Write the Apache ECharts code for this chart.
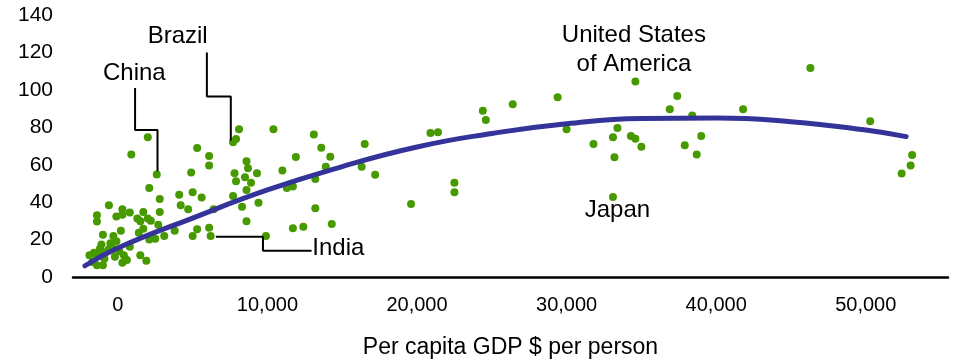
<!DOCTYPE html>
<html>
<head>
<meta charset="utf-8">
<script src="https://cdn.jsdelivr.net/npm/echarts@6/dist/echarts.min.js"></script>
<style>
  html, body { margin: 0; padding: 0; background: #ffffff; }
  #chart { width: 962px; height: 360px; }
</style>
</head>
<body>
<div id="chart"></div>
<script>
// Country observations: per capita GDP ($ per person) and the matching indicator value
const gdpPerCapita = [
  46300, 41800, 50300, 53100, 53000, 52400, 34600, 37400, 36900, 38400,
  29400, 30000, 33400, 33100, 34300, 34600, 35000, 31800, 33200, 37900,
  39000, 38700, 33100, 20900, 21400, 24400, 24600, 26400, 17200, 22500,
  22500, 19600, 8100, 7900, 7700, 10400, 13100, 13600, 16500, 11900,
  14200, 13900, 8600, 8700, 7800, 9300, 11000, 8500, 7900, 8900,
  16300, 13200, 11700, 11300, 8600, 7700, 8300, 9400, 13200, 8600,
  12400, 11700, 14300, 9900, 4100, 5000, 5600, 4200, 4700, 6400,
  3800, 5300, 6100, 5000, 6200, 2000, 900, 2600, 5300, 6100,
  6100, 4900, 2100, 2800, -600, 300, -1400, -1400, -100, 300,
  800, 1700, 2800, 1300, 1500, 2000, 2200, 2700, 3100, 2100,
  2500, -1000, -300, 200, 1400, 1700, -1100, -500, -300, -600,
  -1200, -1600, -1900, -1400, -1000, 100, -200, 400, 600, -900,
  -1700, -1400, -1000, 300, 1500, 1900, 800, -100
];
const indicator = [
  111.7, 89.6, 83.2, 65.2, 59.6, 55.3, 104.5, 96.7, 89.6, 86.3,
  96.0, 78.9, 79.6, 74.7, 75.4, 73.9, 69.6, 71.1, 64.0, 70.4,
  75.4, 65.4, 42.8, 77.0, 77.4, 88.9, 83.9, 92.3, 54.7, 50.4,
  45.3, 39.0, 78.9, 73.7, 72.0, 78.9, 76.2, 69.0, 71.1, 64.1,
  64.3, 58.9, 61.8, 58.1, 55.4, 55.4, 56.9, 53.3, 51.1, 50.4,
  58.9, 52.4, 48.3, 47.6, 46.5, 43.3, 37.6, 39.7, 36.8, 29.8,
  26.9, 26.1, 28.3, 21.9, 44.0, 45.3, 42.5, 38.3, 36.2, 36.2,
  24.7, 25.5, 26.3, 21.9, 21.9, 74.7, 65.4, 54.8, 68.9, 64.7,
  59.6, 55.9, 47.5, 41.7, 38.3, 36.2, 33.0, 29.6, 32.3, 33.3,
  34.4, 34.7, 34.7, 31.3, 29.8, 31.2, 30.1, 27.9, 21.9, 20.0,
  20.5, 22.6, 21.9, 24.7, 23.7, 25.8, 17.3, 18.0, 15.1, 14.8,
  15.1, 13.0, 11.6, 11.6, 13.4, 13.7, 10.8, 11.6, 9.1, 9.8,
  8.0, 6.3, 6.3, 7.6, 11.6, 8.7, 16.2, 19.1
];

// Polynomial trend line, sampled along the GDP range
const trendX = [-2200, 0, 5000, 10000, 15000, 20000, 25000, 30000, 35000, 40000, 45000, 50000, 52700];
const trendY = [6, 15.5, 31.5, 46.5, 59, 69.5, 76.7, 81.9, 84.7, 85, 83, 78.5, 75];

// X-axis tick labels
const xTicks = [0, 10000, 20000, 30000, 40000, 50000];

// Country names and where their labels sit (data units)
const labelNames = ['China', 'Brazil', 'United States\nof America', 'Japan', 'India'];
const labelX = [1100, 4000, 34500, 33400, 13000];
const labelY = [108.8, 128.5, 121.6, 35.8, 15.5];

// Leader lines from labels to their country markers (data units)
const leaderChina = [[1150, 101], [1150, 78.5], [2650, 78.5], [2650, 56.5]];
const leaderBrazil = [[5950, 120], [5950, 96.5], [7550, 96.5], [7550, 73]];
const leaderIndia = [[6550, 21.5], [9700, 21.5], [9700, 14], [12950, 14]];

const FONT = "'Liberation Sans', Arial, sans-serif";

const points = gdpPerCapita.map((x, i) => [x, indicator[i]]);
const trend = trendX.map((x, i) => [x, trendY[i]]);

function leader(data) {
  return {
    type: 'line',
    data: data,
    symbol: 'none',
    silent: true,
    animation: false,
    lineStyle: { color: '#000000', width: 2 },
    z: 3
  };
}

const chart = echarts.init(document.getElementById('chart'), null, { renderer: 'canvas' });
chart.setOption({
  animation: false,
  backgroundColor: '#ffffff',
  grid: { left: 73, right: 14, top: 15, bottom: 83, containLabel: false, outerBoundsMode: 'none' },
  xAxis: {
    type: 'value',
    min: -3000,
    max: 55500,
    name: 'Per capita GDP $ per person',
    nameLocation: 'middle',
    nameGap: 59,
    nameTextStyle: { fontFamily: FONT, fontSize: 23, color: '#000000' },
    axisLine: { show: true, onZero: false, lineStyle: { color: '#000000', width: 2.5 } },
    axisTick: { show: false },
    splitLine: { show: false },
    axisLabel: {
      customValues: xTicks,
      margin: 18,
      fontFamily: FONT,
      fontSize: 20,
      color: '#000000',
      formatter: v => v.toLocaleString('en-US')
    }
  },
  yAxis: {
    type: 'value',
    min: 0,
    max: 140,
    interval: 20,
    axisLine: { show: false },
    axisTick: { show: false },
    splitLine: { show: false },
    axisLabel: { margin: 20, fontFamily: FONT, fontSize: 21, color: '#000000' }
  },
  series: [
    {
      type: 'scatter',
      data: points,
      symbol: 'circle',
      symbolSize: 8,
      itemStyle: { color: '#479900', opacity: 1 },
      z: 2
    },
    {
      type: 'line',
      data: trend,
      smooth: true,
      symbol: 'none',
      lineStyle: { color: '#333399', width: 5, cap: 'round' },
      z: 4
    },
    leader(leaderChina),
    leader(leaderBrazil),
    leader(leaderIndia)
  ]
});

// Country name annotations, placed through the chart's own coordinate system
chart.setOption({
  graphic: labelNames.map((n, i) => {
    const [px, py] = chart.convertToPixel({ gridIndex: 0 }, [labelX[i], labelY[i]]);
    return {
      type: 'text',
      x: px,
      y: py,
      z: 10,
      silent: true,
      style: {
        text: n,
        fill: '#000000',
        font: "24px 'Liberation Sans', Arial, sans-serif",
        lineHeight: 29,
        align: n === 'India' ? 'left' : 'center',
        verticalAlign: 'middle'
      }
    };
  })
});
</script>
</body>
</html>
